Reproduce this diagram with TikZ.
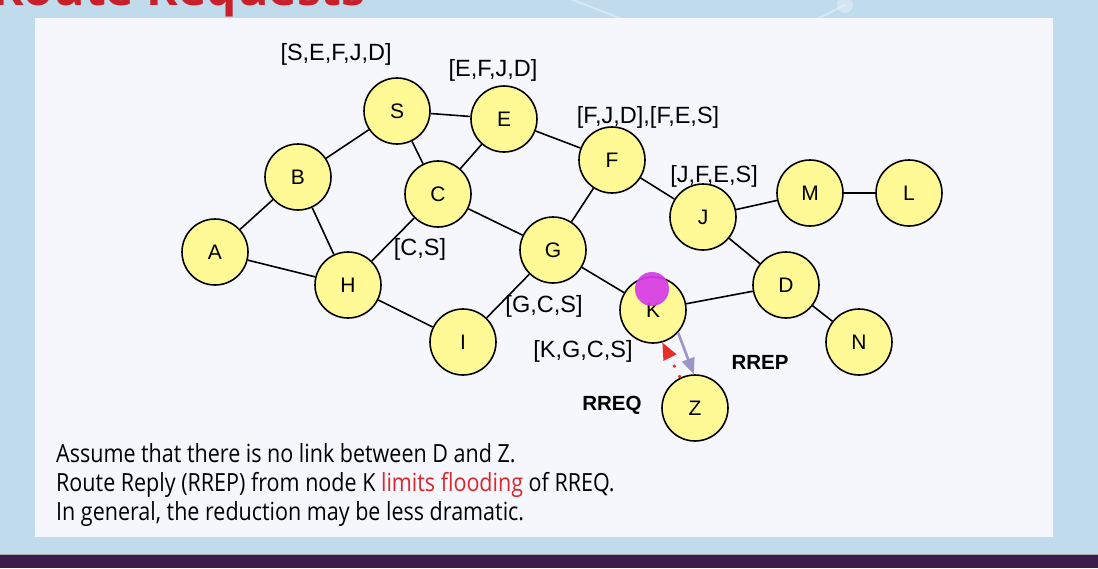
\documentclass[tikz,border=0pt]{standalone}
\usepackage{fontspec}
\setmainfont{Liberation Sans}
\newfontfamily\bodyfont[FakeStretch=0.86]{Open Sans}
\newfontfamily\titlefont{Open Sans}
\usetikzlibrary{arrows.meta}
\definecolor{bgblue}{HTML}{C0DCEC}
\definecolor{panel}{HTML}{F5F7FC}
\definecolor{band}{HTML}{3B1A4E}
\definecolor{nodeyellow}{HTML}{FFFA96}
\definecolor{titlered}{HTML}{C8202A}
\definecolor{textred}{HTML}{D9272E}
\definecolor{rrepblue}{HTML}{9B95CC}
\definecolor{rreqred}{HTML}{E8302A}
\definecolor{pointer}{HTML}{D63BE8}
\tikzset{
  net/.style={circle, draw=black, line width=1.6pt, fill=nodeyellow, minimum size=66pt, inner sep=0pt, font=\fontsize{21}{24}\selectfont},
  link/.style={draw=black, line width=1.6pt},
  route/.style={font=\fontsize{23.5}{27}\selectfont, inner sep=0pt},
  msg/.style={font=\bfseries\fontsize{20.5}{24}\selectfont, inner sep=0pt},
  body/.style={font=\bodyfont\fontsize{25}{29}\selectfont, anchor=base west, inner sep=0pt}
}
\begin{document}
\begin{tikzpicture}[x=1pt,y=-1pt]
\useasboundingbox (0,0) rectangle (1098,568);
\clip (0,0) rectangle (1098,568);
% background
\fill[bgblue] (0,0) rectangle (1098,568);
\draw[white, opacity=0.35, line width=2pt] (560,-5) -- (625,20);
\draw[white, opacity=0.35, line width=2pt] (845,5) -- (815,20);
\fill[white, opacity=0.3] (845,5) circle (8);
\fill[panel] (35,18) rectangle (1053,537);
\fill[band] (0,554) rectangle (1098,568);
\draw[gray!70, line width=1pt] (0,554) -- (1098,554);
% title
\node[anchor=base west, inner sep=0pt, text=titlered, font=\titlefont\bfseries\fontsize{48}{54}\selectfont] (title) at (-8,5) {Route Requests};
% nodes
\node[net] (A) at (215,252) {A};
\node[net] (B) at (298,177) {B};
\node[net] (S) at (397,111) {S};
\node[net] (E) at (504,119) {E};
\node[net] (C) at (438,194) {C};
\node[net] (F) at (612,160) {F};
\node[net] (G) at (553,250) {G};
\node[net] (H) at (348,285) {H};
\node[net] (I) at (463,342) {I};
\node[net] (J) at (703,217) {J};
\node[net] (M) at (810,193) {M};
\node[net] (L) at (909,193) {L};
\node[net] (D) at (786,285) {D};
\node[net] (K) at (653,310) {K};
\node[net] (N) at (859,342) {N};
\node[net] (Z) at (695,408) {Z};
% links
\foreach \u/\v in {A/B,A/H,B/H,B/S,S/E,S/C,E/C,E/F,C/H,C/G,H/I,I/G,G/F,G/K,F/J,J/M,M/L,J/D,K/D,D/N}
  \draw[link] (\u) -- (\v);
% pointer
\fill[pointer, opacity=0.92] (652,289) circle (17);
% route labels
\node[route] (l1) at (336,54) {[S,E,F,J,D]};
\node[route] (l2) at (493,70) {[E,F,J,D]};
\node[route] (l3) at (648,117) {[F,J,D],[F,E,S]};
\node[route] (l4) at (714,176) {[J,F,E,S]};
\node[route] (l5) at (420,249) {[C,S]};
\node[route] (l6) at (544,306) {[G,C,S]};
\node[route] (l7) at (583,351) {[K,G,C,S]};
\node[msg] (rrep) at (760,362) {RREP};
\node[msg] (rreq) at (612,405) {RREQ};
% arrows
\draw[rrepblue, line width=2.6pt, -{Triangle[length=16pt,width=13pt]}] (K.-42) -- (Z.92);
\draw[rreqred, line width=2.6pt, dash pattern=on 2.6pt off 9pt, -{Triangle[length=17pt,width=14pt]}] (Z.116) -- (K.-74);
% text
\node[body] (t1) at (56,462) {Assume that there is no link between D and Z.};
\node[body] (t2) at (56,491) {Route Reply (RREP) from node K \textcolor{textred}{limits flooding} of RREQ.};
\node[body] (t3) at (56,520) {In general, the reduction may be less dramatic.};
\end{tikzpicture}
\end{document}
